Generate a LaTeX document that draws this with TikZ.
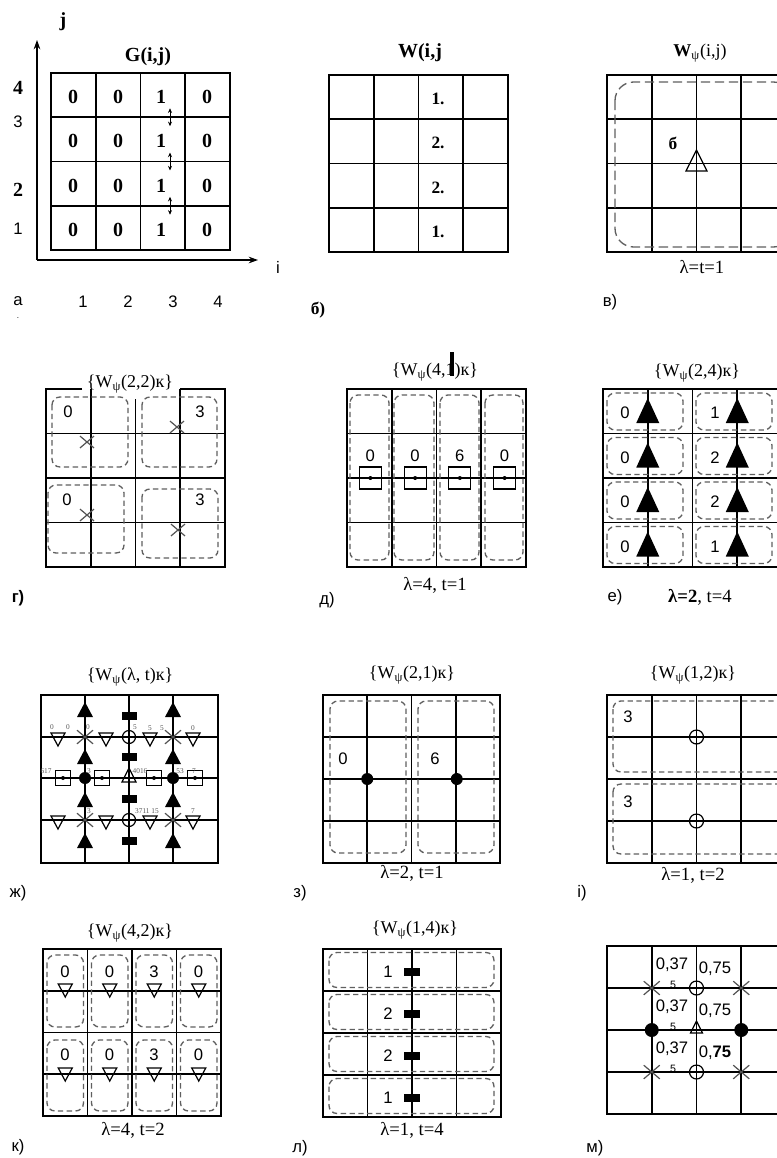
\documentclass[tikz,border=0pt]{standalone}
\usepackage{fontspec}
\setmainfont{Liberation Serif}
\setsansfont{Liberation Sans}
\usetikzlibrary{arrows.meta}
\newcommand\Grid[4]{%
 \draw[gl] (#1,#2) rectangle (#3,#4);
 \foreach \k in {1,2,3}{%
   \draw[gl] ({#1+\k*(#3-#1)/4},#2) -- ({#1+\k*(#3-#1)/4},#4);
   \draw[gl] (#1,{#2+\k*(#4-#2)/4}) -- (#3,{#2+\k*(#4-#2)/4});}}
\newcommand\Xm[3]{\draw[xm] ({#1-#3},{#2-0.85*#3}) -- ({#1+#3},{#2+0.85*#3}) ({#1-#3},{#2+0.85*#3}) -- ({#1+#3},{#2-0.85*#3});}
\newcommand\BT[4]{\fill ({#1},{#2}) -- ({#1-#3},{#2+#4}) -- ({#1+#3},{#2+#4}) -- cycle;}
\newcommand\UT[4]{\draw[line width=0.9pt] ({#1},{#2}) -- ({#1-#3},{#2+#4}) -- ({#1+#3},{#2+#4}) -- cycle;}
\newcommand\DT[4]{\draw[line width=0.9pt] ({#1-#3},{#2}) -- ({#1+#3},{#2}) -- ({#1},{#2+#4}) -- cycle;}
\newcommand\SQ[3]{\draw[line width=0.9pt] ({#1-#3},{#2-#3}) rectangle ({#1+#3},{#2+#3}); \fill ({#1},{#2}) circle[radius=2];}
\newcommand\BR[4]{\fill ({#1-#3},{#2-#4}) rectangle ({#1+#3},{#2+#4});}
\newcommand\Dot[3]{\fill ({#1},{#2}) circle[radius=#3];}
\newcommand\Ring[3]{\draw[ring] ({#1},{#2}) circle[radius=#3];}
\begin{document}
\begin{tikzpicture}[x=0.75pt,y=-0.75pt,
 gl/.style={line width=1.3pt,black},
 db/.style={draw=gray!75!black,line width=1pt,dash pattern=on 4pt off 2.6pt,rounded corners=6pt},
 rm/.style={inner sep=0pt,font=\fontsize{13.5}{15}\selectfont},
 captxt/.style={inner sep=0pt,font=\fontsize{14}{16}\selectfont},
 bfa/.style={inner sep=0pt,font=\bfseries\fontsize{15}{17}\selectfont},
 bf/.style={inner sep=0pt,font=\bfseries\fontsize{13}{15}\selectfont},
 sf/.style={inner sep=0pt,font=\sffamily\fontsize{12.5}{14}\selectfont},
 tinytxt/.style={inner sep=0pt,text=gray!70!black,font=\fontsize{5.5}{6}\selectfont},
 xm/.style={draw=gray!65!black,line width=0.9pt},
 ring/.style={draw=black,line width=0.9pt},
 axisline/.style={line width=0.9pt,-{Stealth[length=7pt,width=5pt]}},
 dbl/.style={line width=0.7pt,{Stealth[length=3.5pt,width=3pt]}-{Stealth[length=3.5pt,width=3pt]}},
]
\useasboundingbox[fill=white] (0,0) rectangle (776,1158);

% ---------------- panel a ----------------
\node[bfa] (a-j) at (63,22) {j};
\coordinate (a-o) at (37,260);
\coordinate (a-y) at (37,40);
\coordinate (a-x) at (258,260);
\draw[axisline] (a-o) -- (a-y);
\draw[axisline] (a-o) -- (a-x);
\Grid{51}{73}{230}{250}
\node[bfa] (a-G) at (148,57) {G(i,j)};
\foreach \r in {1,...,4}{
  \foreach \c/\x/\v in {1/73/0,2/118/0,3/161/1,4/207/0}{
    \node[bfa] (a-\r-\c) at (\x,{73+(\r-0.5)*44.25+2}) {\v};}}
\foreach \k in {1,2,3}{
  \coordinate (a-p\k) at (170,{73+\k*44.25-9});
  \coordinate (a-q\k) at (170,{73+\k*44.25+9});
  \draw[dbl] (a-p\k) -- (a-q\k);}
\node[bfa] (a-l4) at (18,88) {4};
\node[sf] (a-l3) at (18,122) {3};
\node[bfa] (a-l2) at (18,190) {2};
\node[sf] (a-l1) at (18,229) {1};
\node[sf] (a-i) at (278,267) {i};
\node[sf] (a-cap) at (18,301) {а};
\node[sf,font=\sffamily\fontsize{6}{7}\selectfont] (a-dot) at (18,318) {.};
\foreach \n/\x in {1/83,2/128,3/173,4/218}{
  \node[sf] (a-n\n) at (\x,302) {\n};}

% ---------------- panel b ----------------
\Grid{329}{75}{508}{252}
\node[bfa] (b-W) at (420,53) {W(i,j};
\foreach \r/\v in {1/1.,2/2.,3/2.,4/1.}{
  \node[bf] (b-\r) at (438,{75+(\r-0.5)*44.25+2}) {\v};}
\node[bf] (b-cap) at (318,310) {б)};

% ---------------- panel v ----------------
\Grid{607}{75}{786}{252}
\draw[db,rounded corners=14pt,dash pattern=on 7pt off 3.5pt] (615,82) rectangle (792,247);
\node[rm] (v-W) at (700,53) {\textbf{W}\textsubscript{ψ}(i,j)};
\node[bf] (v-b) at (673,143) {б};
\UT{696.5}{150}{10.5}{21}
\node[captxt] (v-cap2) at (702,267) {λ=t=1};
\node[sf] (v-cap) at (610,302) {в)};

% ---------------- panel g ----------------
\draw[gl] (82,389) -- (46,389) -- (46,567) -- (225,567) -- (225,389) -- (180,389);
\draw[gl] (90.75,389) -- (90.75,567);
\draw[gl] (135.5,399) -- (135.5,567);
\draw[gl] (180.25,389) -- (180.25,567);
\foreach \y in {433.5,478,522.5}{\draw[gl] (46,\y) -- (225,\y);}
\node[rm] (g-lab) at (130,384) {\{W\textsubscript{ψ}(2,2)к\}};
\draw[db] (52,397) rectangle (128,467);
\draw[db] (142,397) rectangle (217,467);
\draw[db] (48,485) rectangle (124,553);
\draw[db] (142,489) rectangle (218,558);
\node[sf] (g-v1) at (68,412) {0};
\node[sf] (g-v2) at (200,412) {3};
\node[sf] (g-v3) at (67,500) {0};
\node[sf] (g-v4) at (200,500) {3};
\Xm{87}{442}{7}
\Xm{177}{427}{7}
\Xm{87}{515}{7}
\Xm{178}{530}{7}
\node[sf,font=\bfseries\sffamily\fontsize{12.5}{14}\selectfont] (g-cap) at (18,598) {г)};

% ---------------- panel d ----------------
\Grid{347}{389}{526}{567}
\node[rm] (d-lab) at (435,372) {\{W\textsubscript{ψ}(4,1)к\}};
\draw[line width=2.4pt] (452,352) -- (452,376);
\foreach \a/\b in {350/389,394/434,440/479,485/523}{
  \draw[db] (\a,395) rectangle (\b,560);}
\foreach \c/\v in {1/0,2/0,3/6,4/0}{
  \pgfmathsetmacro\xc{347+(\c-0.5)*44.75+1}
  \SQ{\xc}{478}{11}
  \node[sf] (d-v\c) at (\xc,456) {\v};}
\node[captxt] (d-cap2) at (435,585) {λ=4, t=1};
\node[sf] (d-cap) at (327,600) {д)};

% ---------------- panel e ----------------
\Grid{603}{389}{782}{567}
\node[rm] (e-lab) at (697,373) {\{W\textsubscript{ψ}(2,4)к\}};
\foreach \r/\v in {1/1,2/2,3/2,4/1}{
  \pgfmathsetmacro\yt{389+(\r-1)*44.5}
  \draw[db] (607,{\yt+4}) rectangle (683,{\yt+41});
  \draw[db] (696,{\yt+4}) rectangle (772,{\yt+41});
  \BT{647.75}{\yt+9}{11.5}{25}
  \BT{737.25}{\yt+9}{11.5}{25}
  \node[sf] (e-l\r) at (625,{\yt+24}) {0};
  \node[sf] (e-r\r) at (715,{\yt+24}) {\v};}
\node[sf] (e-cap) at (615,597) {е)};
\node[captxt] (e-cap2) at (700,597) {\textbf{λ=2}, t=4};

% ---------------- panel zh ----------------
\draw[gl] (41,695) rectangle (218,863);
\foreach \x in {85,129,173}{\draw[gl] (\x,695) -- (\x,863);}
\foreach \y in {737,778,820}{\draw[gl] (41,\y) -- (218,\y);}
\node[rm] (zh-lab) at (130,677) {\{W\textsubscript{ψ}(λ, t)к\}};
\foreach \y in {702,749,792,833}{
  \BT{85}{\y}{8}{15}
  \BT{173}{\y}{8}{15}}
\foreach \y in {716,757,799,841}{\BR{129}{\y}{7.5}{4}}
\foreach \y in {737,820}{
  \foreach \x in {58,106,150,193}{\DT{\x}{\y-4}{7}{13}}
  \Xm{85}{\y}{8}
  \Xm{173}{\y}{8}
  \Ring{129}{\y}{6.5}}
\foreach \x in {63,102,154,195}{\SQ{\x}{778}{7.5}}
\Dot{85}{778}{6}
\Dot{173}{778}{6}
\UT{129}{768}{7}{14}
\node[tinytxt] (zh-t1) at (52,727) {0};
\node[tinytxt] (zh-t2) at (68,727) {0};
\node[tinytxt] (zh-t3) at (88,727) {0};
\node[tinytxt] (zh-t4) at (135,727) {5};
\node[tinytxt] (zh-t5) at (150,728) {5};
\node[tinytxt] (zh-t6) at (162,728) {5};
\node[tinytxt] (zh-t7) at (193,728) {0};
\node[tinytxt] (zh-t8) at (46,771) {617};
\node[tinytxt] (zh-t9) at (89,771) {3};
\node[tinytxt] (zh-t10) at (140,771) {4016};
\node[tinytxt] (zh-t11) at (180,771) {53};
\node[tinytxt] (zh-t12) at (194,771) {7};
\node[tinytxt] (zh-t13) at (89,811) {3};
\node[tinytxt] (zh-t14) at (147,811) {3711 15};
\node[tinytxt] (zh-t15) at (193,811) {7};
\node[sf] (zh-cap) at (18,893) {ж)};

% ---------------- panel z ----------------
\Grid{323}{695}{500}{863}
\node[rm] (z-lab) at (412,675) {\{W\textsubscript{ψ}(2,1)к\}};
\draw[db] (330,701) rectangle (406,853);
\draw[db] (418,701) rectangle (494,853);
\node[sf] (z-v1) at (343,759) {0};
\node[sf] (z-v2) at (435,759) {6};
\Dot{367.25}{779}{6}
\Dot{456.75}{779}{6}
\node[captxt] (z-cap2) at (412,873) {λ=2, t=1};
\node[sf] (z-cap) at (300,893) {з)};

% ---------------- panel i ----------------
\Grid{607}{695}{786}{863}
\node[rm] (i-lab) at (693,675) {\{W\textsubscript{ψ}(1,2)к\}};
\draw[db] (613,701) rectangle (790,772);
\draw[db] (613,784) rectangle (790,854);
\node[sf] (i-v1) at (628,717) {3};
\node[sf] (i-v2) at (628,802) {3};
\Ring{696.5}{737}{7}
\Ring{696.5}{821}{7}
\node[captxt] (i-cap2) at (693,875) {λ=1, t=2};
\node[sf] (i-cap) at (582,893) {і)};

% ---------------- panel k ----------------
\Grid{43}{949}{221}{1116}
\node[rm] (k-lab) at (130,933) {\{W\textsubscript{ψ}(4,2)к\}};
\foreach \c/\v in {1/0,2/0,3/3,4/0}{
  \pgfmathsetmacro\xl{43+(\c-1)*44.5}
  \draw[db] ({\xl+4},955) rectangle ({\xl+40.5},1027);
  \draw[db] ({\xl+4},1040) rectangle ({\xl+40.5},1111);
  \node[sf] (k-a\c) at ({\xl+22},972) {\v};
  \node[sf] (k-b\c) at ({\xl+22},1055) {\v};
  \DT{\xl+22.25}{984}{7}{13}
  \DT{\xl+22.25}{1068}{7}{13}}
\node[captxt] (k-cap2) at (133,1130) {λ=4, t=2};
\node[sf] (k-cap) at (18,1147) {к)};

% ---------------- panel l ----------------
\Grid{323}{949}{501}{1117}
\node[rm] (l-lab) at (415,930) {\{W\textsubscript{ψ}(1,4)к\}};
\foreach \r/\v in {1/1,2/2,3/2,4/1}{
  \pgfmathsetmacro\yt{949+(\r-1)*42}
  \draw[db] (329,{\yt+3.5}) rectangle (494,{\yt+38.5});
  \node[sf] (l-v\r) at (388,{\yt+23}) {\v};
  \BR{412}{\yt+23}{8}{4}}
\node[captxt] (l-cap2) at (412,1130) {λ=1, t=4};
\node[sf] (l-cap) at (300,1148) {л)};

% ---------------- panel m ----------------
\Grid{607}{946}{786}{1114}
\foreach \r/\y in {1/946,2/988,3/1030}{
  \node[sf] (m-a\r) at (672,{\y+19}) {0,37};
  \node[sf,font=\sffamily\fontsize{8}{9}\selectfont] (m-f\r) at (673,{\y+39}) {5};}
\node[sf] (m-b1) at (715,969) {0,75};
\node[sf] (m-b2) at (715,1011) {0,75};
\node[sf] (m-b3) at (715,1053) {0,\textbf{75}};
\Xm{651.75}{988}{8}
\Xm{741.25}{988}{8}
\Xm{651.75}{1072}{8}
\Xm{741.25}{1072}{8}
\Ring{696.5}{988}{7}
\Ring{696.5}{1072}{7}
\UT{696.5}{1021}{6}{12}
\Dot{651.75}{1030}{7}
\Dot{741.25}{1030}{7}
\node[sf] (m-cap) at (595,1148) {м)};
\end{tikzpicture}
\end{document}
